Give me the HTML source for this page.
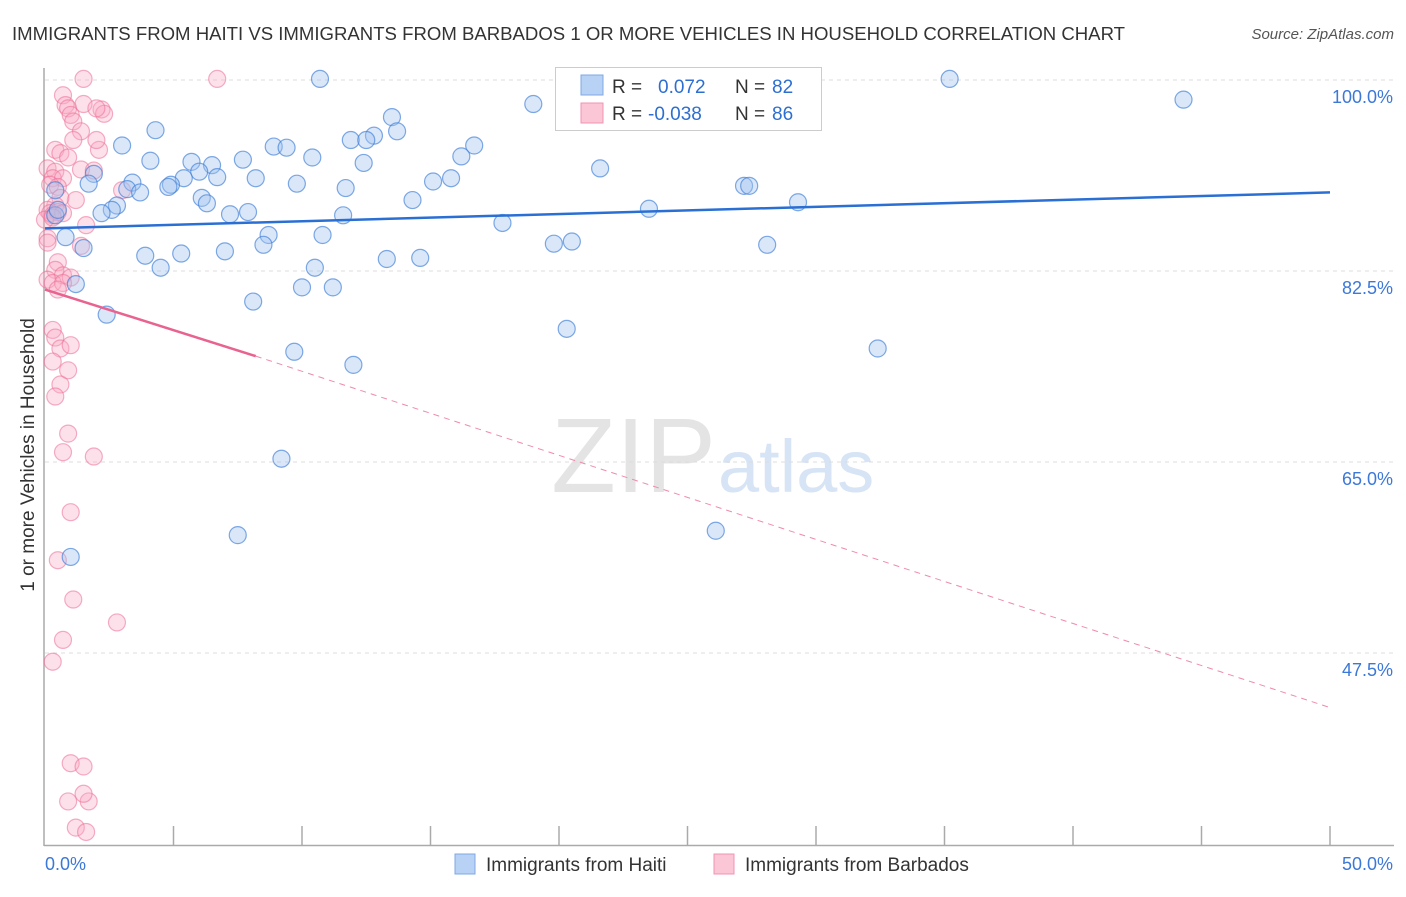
<!DOCTYPE html>
<html><head><meta charset="utf-8"><style>
body{margin:0;background:#fff;font-family:"Liberation Sans",sans-serif;}
svg text{font-family:"Liberation Sans",sans-serif;}
</style></head><body>
<svg id="chart" width="1406" height="892">
<text x="12" y="40" font-size="18" fill="#333" textLength="1113" lengthAdjust="spacingAndGlyphs">IMMIGRANTS FROM HAITI VS IMMIGRANTS FROM BARBADOS 1 OR MORE VEHICLES IN HOUSEHOLD CORRELATION CHART</text>
<text x="1394" y="39" font-size="15" fill="#555" font-style="italic" text-anchor="end">Source: ZipAtlas.com</text>
<text x="716" y="492" font-size="106" fill="#e4e4e4" text-anchor="end" font-family="Liberation Serif">ZIP</text>
<text x="718" y="492" font-size="74" fill="#d6e4f5">atlas</text>
<text transform="translate(34,455) rotate(-90)" font-size="19" fill="#333" text-anchor="middle">1 or more Vehicles in Household</text>
<g id="grid"></g><g id="pts"></g><g id="lines"></g>
<g>
<rect x="555.5" y="67.5" width="266" height="63" fill="#fff" stroke="#ccc"/>
<rect x="581" y="75" width="22" height="20" fill="#b8d2f5" stroke="#7fa8e3"/>
<rect x="581" y="103" width="22" height="20" fill="#fbc7d6" stroke="#f093b1"/>
<text x="612" y="93" font-size="19" fill="#333">R =</text>
<text x="658" y="93" font-size="19" fill="#2d6fd1">0.072</text>
<text x="735" y="93" font-size="19" fill="#333">N =</text>
<text x="772" y="93" font-size="19" fill="#2d6fd1">82</text>
<text x="612" y="120" font-size="19" fill="#333">R =</text>
<text x="648" y="120" font-size="19" fill="#2d6fd1">-0.038</text>
<text x="735" y="120" font-size="19" fill="#333">N =</text>
<text x="772" y="120" font-size="19" fill="#2d6fd1">86</text>
</g>
<g>
<rect x="455" y="854" width="20" height="20" fill="#b8d2f5" stroke="#7fa8e3"/>
<text x="486" y="871" font-size="19" fill="#333">Immigrants from Haiti</text>
<rect x="714" y="854" width="20" height="20" fill="#fbc7d6" stroke="#f093b1"/>
<text x="745" y="871" font-size="19" fill="#333">Immigrants from Barbados</text>
</g>
</svg>
<script>
const xTicks=[0,5,10,15,20,25,30,35,40,45,50];
const yTicks=[100,82.5,65,47.5];
const yTickLabels=["100.0%","82.5%","65.0%","47.5%"];
const haitiX=[10.7,35.2,44.3,19.0,13.5,13.7,4.3,12.8,11.9,12.5,16.7,3.0,8.9,9.4,16.2,10.4,4.1,5.7,7.7,6.5,12.4,21.6,6.0,1.9,8.2,6.7,5.4,15.8,15.1,1.7,9.8,3.4,4.9,4.8,3.2,11.7,27.2,27.4,3.7,6.1,6.3,14.3,29.3,2.8,2.6,2.2,23.5,7.9,7.2,11.6,17.8,0.8,8.7,10.8,8.5,1.5,19.8,20.5,28.1,3.9,5.3,7.0,13.3,14.6,4.5,10.5,1.2,10.0,11.2,8.1,2.4,20.3,9.7,32.4,12.0,9.2,7.5,26.1,1.0,0.4,0.4,0.5];
const haitiY=[100.1,100.1,98.2,97.8,96.6,95.3,95.4,94.9,94.5,94.5,94.0,94.0,93.9,93.8,93.0,92.9,92.6,92.5,92.7,92.2,92.4,91.9,91.6,91.4,91.0,91.1,91.0,91.0,90.7,90.5,90.5,90.6,90.4,90.2,90.0,90.1,90.3,90.3,89.7,89.2,88.7,89.0,88.8,88.5,88.1,87.8,88.2,87.9,87.7,87.6,86.9,85.6,85.8,85.8,84.9,84.6,85.0,85.2,84.9,83.9,84.1,84.3,83.6,83.7,82.8,82.8,81.3,81.0,81.0,79.7,78.5,77.2,75.1,75.4,73.9,65.3,58.3,58.7,56.3,89.9,87.6,88.1,86.7];
const barbX=[1.5,6.7,0.7,0.8,0.9,1.5,2.2,2.3,1.0,1.1,1.4,1.1,0.4,0.6,0.9,1.4,1.9,0.1,0.4,0.3,0.7,0.2,0.5,1.2,0.6,0.4,0.1,0.2,0.3,0.5,0.7,0.0,0.3,1.6,0.1,0.1,1.4,0.5,0.4,0.7,0.1,0.3,1.0,0.7,0.5,0.3,0.4,0.6,1.0,0.3,0.6,0.9,0.4,0.9,0.7,1.9,1.0,0.5,1.1,2.8,0.7,0.3,1.0,1.5,0.9,1.7,1.5,1.2,1.6,3.0,2.1,2.0,2.0];
const barbY=[100.1,100.1,98.6,97.7,97.4,97.8,97.3,96.9,96.8,96.2,95.3,94.5,93.6,93.3,92.9,91.8,91.7,91.9,91.6,91.0,91.0,90.4,90.2,89.0,89.2,88.5,88.1,87.8,87.6,87.9,87.8,87.2,87.4,86.7,85.5,85.1,84.8,83.3,82.6,82.1,81.7,81.4,81.9,81.4,80.8,77.1,76.4,75.4,75.7,74.2,72.1,73.4,71.0,67.6,65.9,65.5,60.4,56.0,52.4,50.3,48.7,46.7,37.4,37.1,33.9,33.9,34.6,31.5,31.1,89.9,93.6,94.5,97.4];
const haitiTrend=[86.4,89.7];
const barbTrendSolid=[80.8,74.7];
const barbTrendEnd=42.5;
const X=v=>45+v*25.7, Y=v=>80+(100-v)*10.914;
const NS="http://www.w3.org/2000/svg";
function mk(tag,attrs,parent){const e=document.createElementNS(NS,tag);for(const k in attrs)e.setAttribute(k,attrs[k]);parent.appendChild(e);return e;}
const grid=document.getElementById('grid'),pts=document.getElementById('pts'),lines=document.getElementById('lines');
yTicks.forEach((t,i)=>{
 const g=mk('line',{x1:45,x2:1394,y1:Y(t),y2:Y(t),stroke:'#ddd','stroke-dasharray':'4,4'},grid);
 
 
 const tx=mk('text',{x:1393,y:Y(t)+23,'font-size':18,fill:'#3b78d8','text-anchor':'end'},grid);
 tx.textContent=yTickLabels[i];
 
 
});
const ax=mk('line',{x1:44,x2:44,y1:68,y2:846,stroke:'#aaa','stroke-width':1.5},grid);


const bx=mk('line',{x1:44,x2:1394,y1:845.5,y2:845.5,stroke:'#aaa','stroke-width':1.5},grid);


xTicks.forEach(t=>{if(t===0)return;const l=mk('line',{x1:X(t),x2:X(t),y1:826,y2:845,stroke:'#aaa','stroke-width':1.5},grid);
 
 });
const xl=mk('text',{x:45,y:870,'font-size':18,fill:'#3b78d8'},grid);xl.textContent=xTicks[0].toFixed(1)+'%';


const xr=mk('text',{x:1393,y:870,'font-size':18,fill:'#3b78d8','text-anchor':'end'},grid);xr.textContent=xTicks[10].toFixed(1)+'%';


barbX.forEach((v,i)=>{const c=mk('circle',{cx:X(v),cy:Y(barbY[i]),r:8.5,fill:'rgba(248,170,195,0.35)',stroke:'rgba(236,110,150,0.55)','stroke-width':1.2},pts);
 
 });
haitiX.forEach((v,i)=>{const c=mk('circle',{cx:X(v),cy:Y(haitiY[i]),r:8.5,fill:'rgba(160,195,240,0.4)',stroke:'rgba(60,125,215,0.65)','stroke-width':1.2},pts);
 
 });
const hl=mk('line',{x1:X(0),y1:Y(haitiTrend[0]),x2:X(50),y2:Y(haitiTrend[1]),stroke:'#2a6fd4','stroke-width':2.5},lines);


const bl=mk('line',{x1:X(0),y1:Y(barbTrendSolid[0]),x2:X(8.2),y2:Y(barbTrendSolid[1]),stroke:'#e8638f','stroke-width':2.5},lines);


const bd=mk('line',{x1:X(8.2),y1:Y(barbTrendSolid[1]),x2:X(50),y2:Y(barbTrendEnd),stroke:'#f08aab','stroke-width':1,'stroke-dasharray':'6,5'},lines);


</script>
</body></html>
